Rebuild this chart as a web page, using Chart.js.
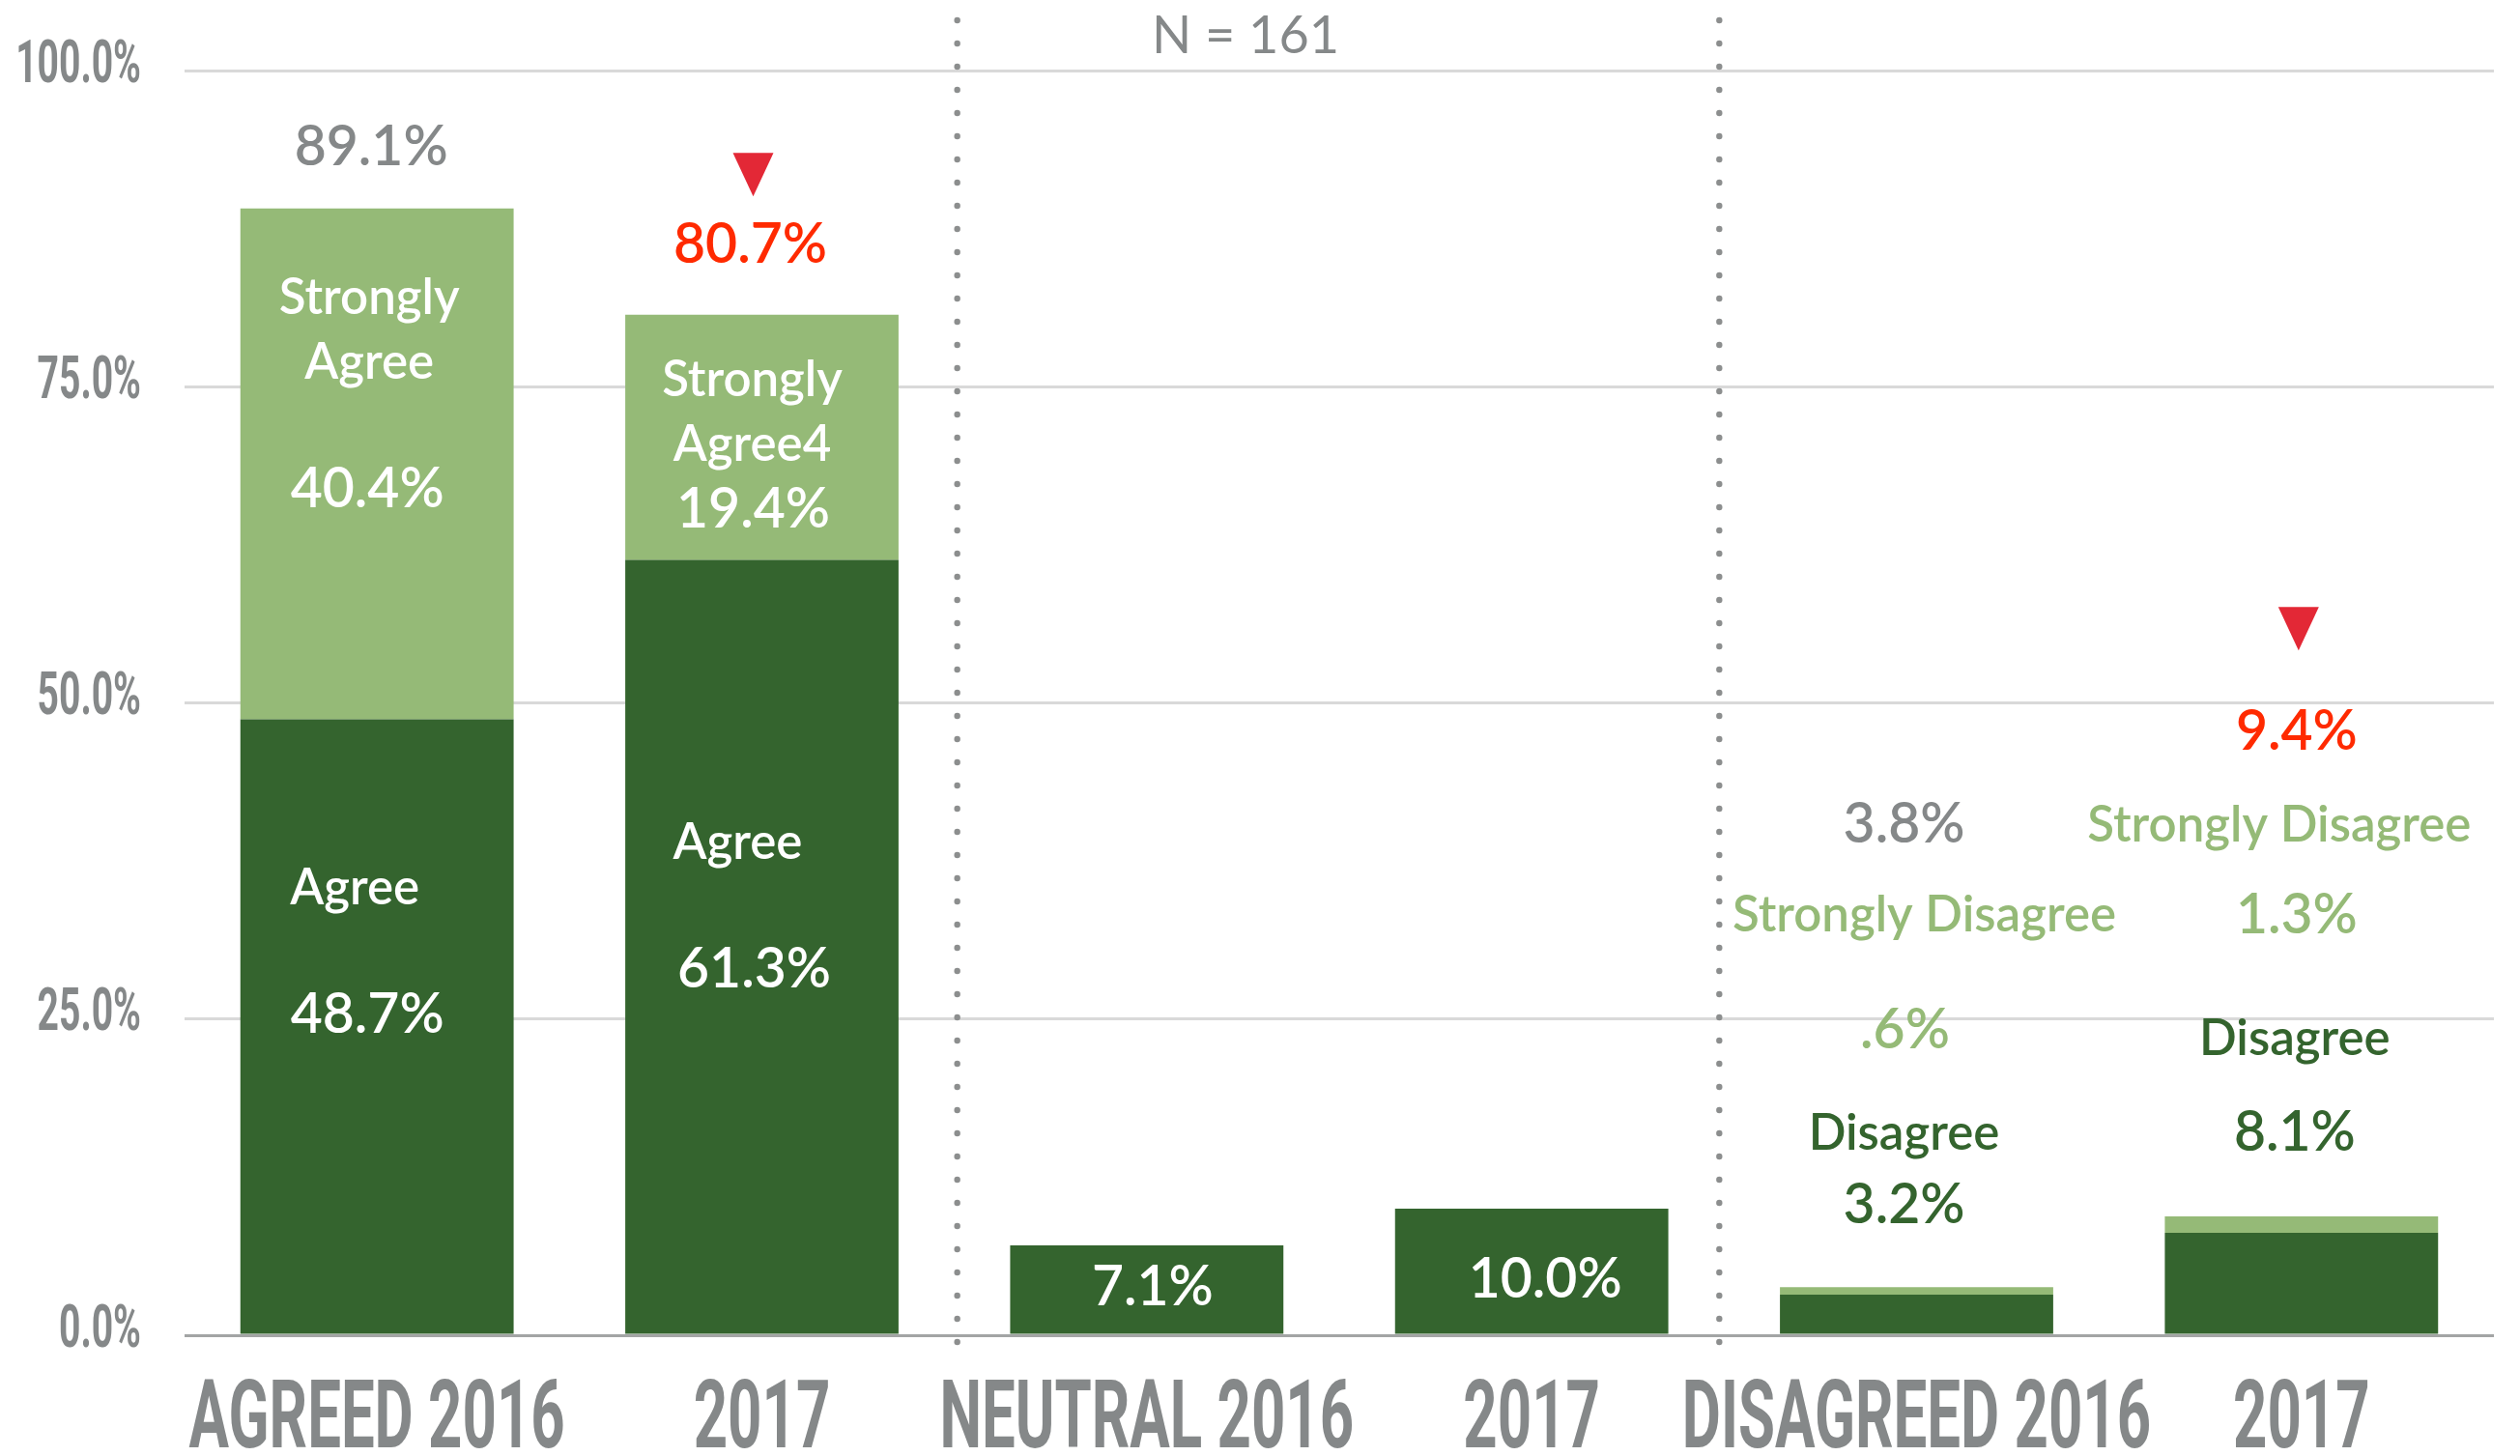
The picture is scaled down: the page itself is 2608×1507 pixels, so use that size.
<!DOCTYPE html>
<html>
<head>
<meta charset="utf-8">
<style>
html,body{margin:0;padding:0;background:#ffffff;}
canvas{display:block;}
</style>
<script src="https://cdn.jsdelivr.net/npm/chart.js@4/dist/chart.umd.min.js"></script>
</head>
<body>
<canvas id="c" width="2608" height="1507"></canvas>
<script>
// ---- data ----
const categories = ['AGREED 2016', '2017', 'NEUTRAL 2016', '2017', 'DISAGREED 2016', '2017'];
const baseValues = [48.7, 61.3, 7.1, 10.0, 3.2, 8.1];      // Agree / Neutral / Disagree
const strongValues = [40.4, 19.4, 0, 0, 0.6, 1.3];         // Strongly Agree / Strongly Disagree
const yTickValues = [0, 25, 50, 75, 100];
const yTickLabels = ['0.0%', '25.0%', '50.0%', '75.0%', '100.0%'];
const sampleNote = 'N = 161';

// ---- styles ----
const DARK = '#34642E';
const LIGHT = '#95BA77';
const GRAY = '#858889';
const RED = '#FF2A00';
const TRI = '#E32836';
const WHITE = '#FFFFFF';

// annotation texts (cat index, y in axis units, pixel x offset)
const annotations = [
  {cat:0, y:93.9, dx:-6,  text:'89.1%', color:GRAY},
  {cat:0, y:82.0, dx:-8,  text:'Strongly', color:WHITE},
  {cat:0, y:76.9, dx:-8,  text:'Agree', color:WHITE},
  {cat:0, y:66.9, dx:-10, text:'40.4%', color:WHITE},
  {cat:0, y:35.3, dx:-23, text:'Agree', color:WHITE},
  {cat:0, y:25.3, dx:-10, text:'48.7%', color:WHITE},
  {cat:1, y:86.2, dx:-12, text:'80.7%', color:RED},
  {cat:1, y:75.5, dx:-10, text:'Strongly', color:WHITE},
  {cat:1, y:70.4, dx:-10, text:'Agree4', color:WHITE},
  {cat:1, y:65.3, dx:-9,  text:'19.4%', color:WHITE},
  {cat:1, y:38.9, dx:-25, text:'Agree', color:WHITE},
  {cat:1, y:28.9, dx:-8,  text:'61.3%', color:WHITE},
  {cat:2, y:3.8,  dx:6,   text:'7.1%', color:WHITE},
  {cat:3, y:4.4,  dx:14,  text:'10.0%', color:WHITE},
  {cat:4, y:40.4, dx:-13, text:'3.8%', color:GRAY},
  {cat:4, y:33.2, dx:8,   text:'Strongly Disagree', color:LIGHT},
  {cat:4, y:24.1, dx:-12, text:'.6%', color:LIGHT},
  {cat:4, y:15.9, dx:-13, text:'Disagree', color:DARK},
  {cat:4, y:10.3, dx:-13, text:'3.2%', color:DARK},
  {cat:5, y:47.7, dx:-5,  text:'9.4%', color:RED},
  {cat:5, y:40.3, dx:-23, text:'Strongly Disagree', color:LIGHT},
  {cat:5, y:33.2, dx:-5,  text:'1.3%', color:LIGHT},
  {cat:5, y:23.4, dx:-7,  text:'Disagree', color:DARK},
  {cat:5, y:16.0, dx:-7,  text:'8.1%', color:DARK}
];
const triangles = [
  {cat:1, y:91.8, dx:-9},
  {cat:5, y:55.9, dx:-3}
];
const separatorOffsets = [3, -5];

const CONDENSED = '700 62px Roboto, "Liberation Sans", sans-serif';
const CAT_FONT = '700 98px Roboto, "Liberation Sans", sans-serif';
const NOTE_FONT = '400 54px Lato, "Noto Sans", sans-serif';
function labelFont(a) {
  const size = a.text.indexOf('%') >= 0 ? 57 : 51;
  return '600 ' + size + 'px Lato, "Noto Sans", sans-serif';
}

const overlay = {
  id: 'overlay',
  afterDraw(chart) {
    const ctx = chart.ctx;
    const xs = chart.scales.x, ys = chart.scales.y;
    ctx.save();

    // y tick labels (condensed)
    ctx.fillStyle = GRAY;
    ctx.font = CONDENSED;
    ctx.textAlign = 'right';
    ctx.textBaseline = 'middle';
    yTickValues.forEach((v, i) => {
      const y = ys.getPixelForValue(v) - 4;
      ctx.save();
      ctx.translate(xs.left - 45, y);
      ctx.scale(0.63, 1);
      ctx.fillText(yTickLabels[i], 0, 0);
      ctx.restore();
    });

    // category labels (condensed)
    ctx.font = CAT_FONT;
    ctx.textAlign = 'center';
    ctx.textBaseline = 'alphabetic';
    categories.forEach((c, i) => {
      const x = xs.getPixelForValue(i);
      ctx.save();
      ctx.translate(x, ys.bottom + 116);
      ctx.scale(0.63, 1);
      ctx.fillText(c, 0, 0);
      ctx.restore();
    });

    // dotted separators
    ctx.fillStyle = '#8C8E8E';
    [[1, 2], [3, 4]].forEach(([a, b], k) => {
      const x = (xs.getPixelForValue(a) + xs.getPixelForValue(b)) / 2 + separatorOffsets[k];
      for (let y = 21; y <= 1392; y += 24) {
        ctx.beginPath();
        ctx.arc(x, y, 3.2, 0, Math.PI * 2);
        ctx.fill();
      }
    });

    // sample size note
    ctx.fillStyle = GRAY;
    ctx.font = NOTE_FONT;
    ctx.textAlign = 'center';
    ctx.textBaseline = 'middle';
    const nx = (xs.getPixelForValue(2) + xs.getPixelForValue(3)) / 2 - 97;
    ctx.fillText(sampleNote, nx, 38);

    // value / label annotations
    annotations.forEach(a => {
      ctx.font = labelFont(a);
      ctx.fillStyle = a.color;
      ctx.fillText(a.text, xs.getPixelForValue(a.cat) + a.dx, ys.getPixelForValue(a.y));
    });

    // down triangles
    ctx.fillStyle = TRI;
    triangles.forEach(t => {
      const cx = xs.getPixelForValue(t.cat) + t.dx;
      const cy = ys.getPixelForValue(t.y);
      ctx.beginPath();
      ctx.moveTo(cx - 21, cy - 22);
      ctx.lineTo(cx + 21, cy - 22);
      ctx.lineTo(cx, cy + 23);
      ctx.closePath();
      ctx.fill();
    });

    ctx.restore();
  }
};

new Chart(document.getElementById('c'), {
  type: 'bar',
  data: {
    labels: categories,
    datasets: [
      {label: 'Agree / Neutral / Disagree', data: baseValues, backgroundColor: DARK, stack: 's',
       categoryPercentage: 1, barPercentage: 0.71, borderWidth: 0},
      {label: 'Strongly', data: strongValues, backgroundColor: LIGHT, stack: 's',
       categoryPercentage: 1, barPercentage: 0.71, borderWidth: 0}
    ]
  },
  options: {
    responsive: false,
    animation: false,
    devicePixelRatio: 1,
    layout: {padding: {top: 73, right: 27, left: 0, bottom: 0}},
    plugins: {legend: {display: false}, tooltip: {enabled: false}, title: {display: false}},
    scales: {
      x: {
        stacked: true,
        grid: {display: false},
        border: {display: false},
        ticks: {display: false},
        afterFit(s) { s.height = 125; }
      },
      y: {
        stacked: true,
        min: 0, max: 100,
        ticks: {display: false, stepSize: 25},
        grid: {
          color: c => (c.tick && c.tick.value === 0) ? '#A3A5A5' : '#D9D9D9',
          lineWidth: 3,
          drawTicks: false
        },
        border: {display: false},
        afterFit(s) { s.width = 191; }
      }
    }
  },
  plugins: [overlay]
});
</script>
</body>
</html>
